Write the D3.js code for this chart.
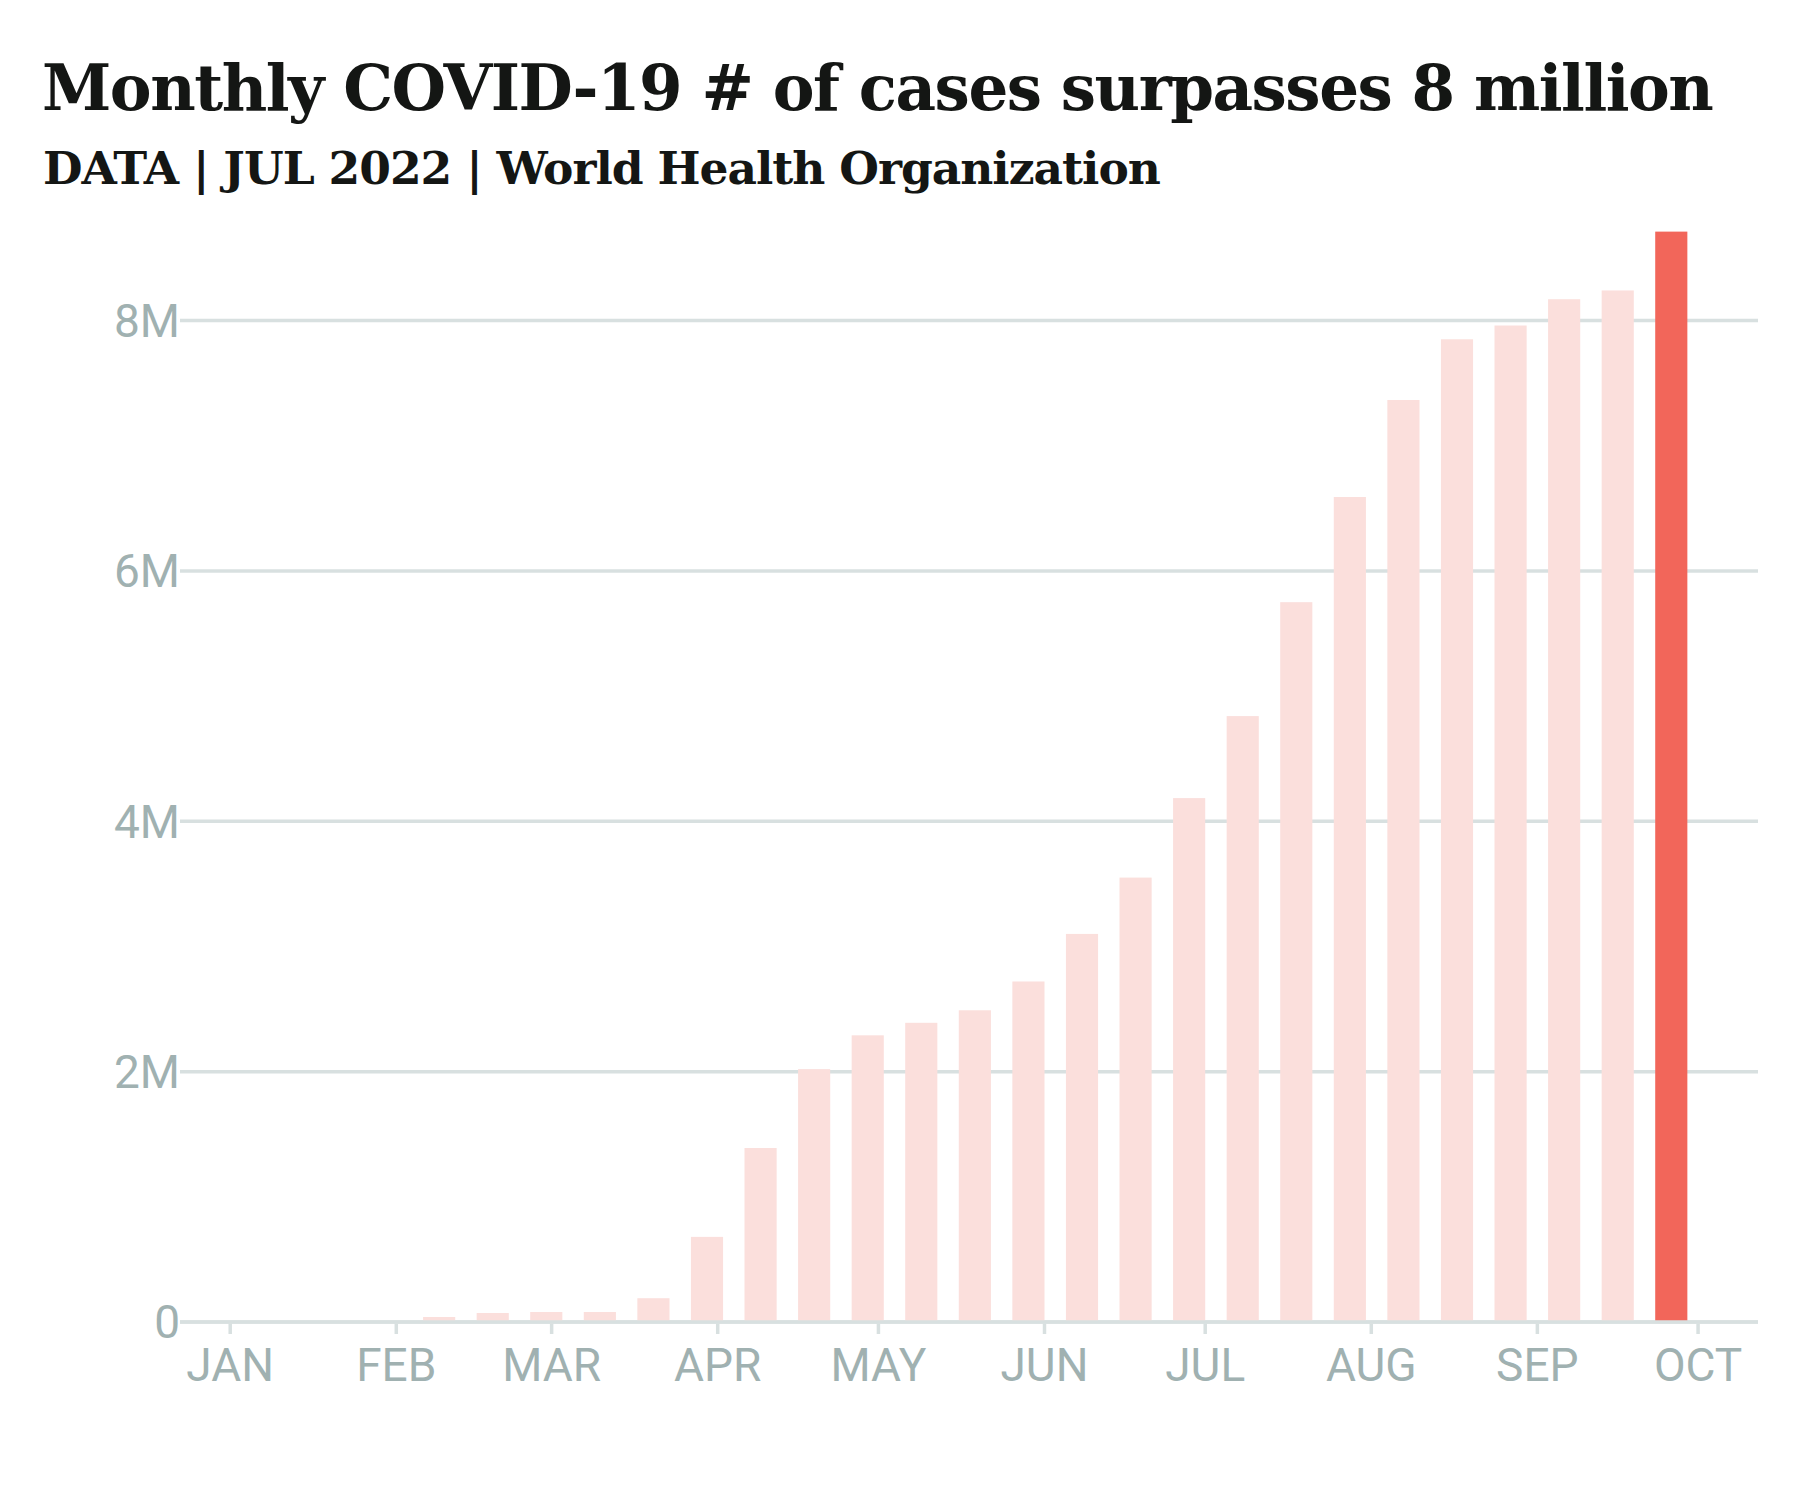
<!DOCTYPE html>
<html>
<head>
<meta charset="utf-8">
<script src="https://cdn.jsdelivr.net/npm/d3@7"></script>
<style>
  html, body { margin: 0; padding: 0; background: #ffffff; }
  svg { display: block; }
</style>
</head>
<body>
<svg id="chart" width="1800" height="1500"></svg>
<script>
// ---- data ----
const titleText = "Monthly COVID-19 # of cases surpasses 8 million";
const subtitleText = "DATA | JUL 2022 | World Health Organization";
const dates = ["2020-02-09","2020-02-19","2020-02-29","2020-03-10","2020-03-20","2020-03-30",
  "2020-04-09","2020-04-19","2020-04-29","2020-05-09","2020-05-19","2020-05-29",
  "2020-06-08","2020-06-18","2020-06-28","2020-07-08","2020-07-18","2020-07-28",
  "2020-08-07","2020-08-17","2020-08-27","2020-09-06","2020-09-16","2020-09-26"];
const cases = [40000, 72000, 80000, 80000, 190000, 680000,
  1390000, 2020000, 2290000, 2390000, 2490000, 2720000,
  3100000, 3550000, 4185000, 4840000, 5750000, 6590000,
  7365000, 7850000, 7960000, 8170000, 8240000, 8710000];
const yTicks = [0, 2000000, 4000000, 6000000, 8000000];
const yTickLabels = ["0", "2M", "4M", "6M", "8M"];
const xDomain = ["2019-12-23", "2020-10-12"];
const highlightDate = "2020-09-26";

const parse = d3.utcParse("%Y-%m-%d");
const data = dates.map((d, i) => ({ date: parse(d), value: cases[i], key: d }));

const svg = d3.select("#chart");

const x = d3.scaleUtc().domain(xDomain.map(parse)).range([182, 1757]);
const y = d3.scaleLinear().domain([0, 8000000]).range([1322, 320.5]);

const gridColor = "#d8e0e0";
const labelColor = "#a0b1b1";

// gridlines
svg.append("g").selectAll("line").data(yTicks).join("line")
  .attr("x1", x.range()[0] - 2).attr("x2", x.range()[1] + 1)
  .attr("y1", d => y(d)).attr("y2", d => y(d))
  .attr("stroke", gridColor).attr("stroke-width", 3.5);

// y labels
svg.append("g").selectAll("text").data(yTicks).join("text")
  .attr("x", 180).attr("y", d => y(d)).attr("dy", "0.355em")
  .attr("text-anchor", "end")
  .attr("font-family", "Roboto").attr("font-size", 46)
  .attr("fill", labelColor)
  .text((d, i) => yTickLabels[i]);

// bars
const halfW = d => [d3.utcDay.offset(d, -3), d3.utcDay.offset(d, 3)];
svg.append("g").selectAll("rect").data(data).join("rect")
  .attr("x", d => x(halfW(d.date)[0]))
  .attr("width", d => x(halfW(d.date)[1]) - x(halfW(d.date)[0]))
  .attr("y", d => y(d.value))
  .attr("height", d => y(0) - y(d.value))
  .attr("fill", d => d.key === highlightDate ? "#f2665a" : "#fbdfdc");

// baseline on top
svg.append("line")
  .attr("x1", x.range()[0] - 2).attr("x2", x.range()[1] + 1)
  .attr("y1", y(0)).attr("y2", y(0))
  .attr("stroke", gridColor).attr("stroke-width", 3.5);

// x axis ticks + labels
const months = d3.utcMonth.range(d3.utcMonth.ceil(x.domain()[0]), x.domain()[1]);
const fmt = d3.utcFormat("%b");
const xg = svg.append("g");
xg.selectAll("line").data(months).join("line")
  .attr("x1", d => x(d)).attr("x2", d => x(d))
  .attr("y1", y(0) + 1.5).attr("y2", y(0) + 12)
  .attr("stroke", gridColor).attr("stroke-width", 3.5);
xg.selectAll("text").data(months).join("text")
  .attr("x", d => x(d)).attr("y", 1381)
  .attr("text-anchor", "middle")
  .attr("font-family", "Roboto").attr("font-size", 46)
  .attr("fill", labelColor)
  .text(d => fmt(d).toUpperCase());

// title & subtitle: shrink font size to fit target width
function fitText(sel, target, size) {
  const w = sel.node().getComputedTextLength();
  if (w > target) sel.attr("font-size", size * target / w);
}
const title = svg.append("text")
  .attr("x", 42).attr("y", 110)
  .attr("font-family", "DejaVu Serif").attr("font-weight", "bold")
  .attr("font-size", 68).attr("letter-spacing", "-1.5px").attr("fill", "#141614")
  .text(titleText);
fitText(title, 1676, 68);

const sub = svg.append("text")
  .attr("x", 43).attr("y", 184)
  .attr("font-family", "DejaVu Serif").attr("font-weight", "bold")
  .attr("font-size", 49).attr("letter-spacing", "-1px").attr("fill", "#141614")
  .text(subtitleText);
fitText(sub, 1120, 49);
</script>
</body>
</html>
